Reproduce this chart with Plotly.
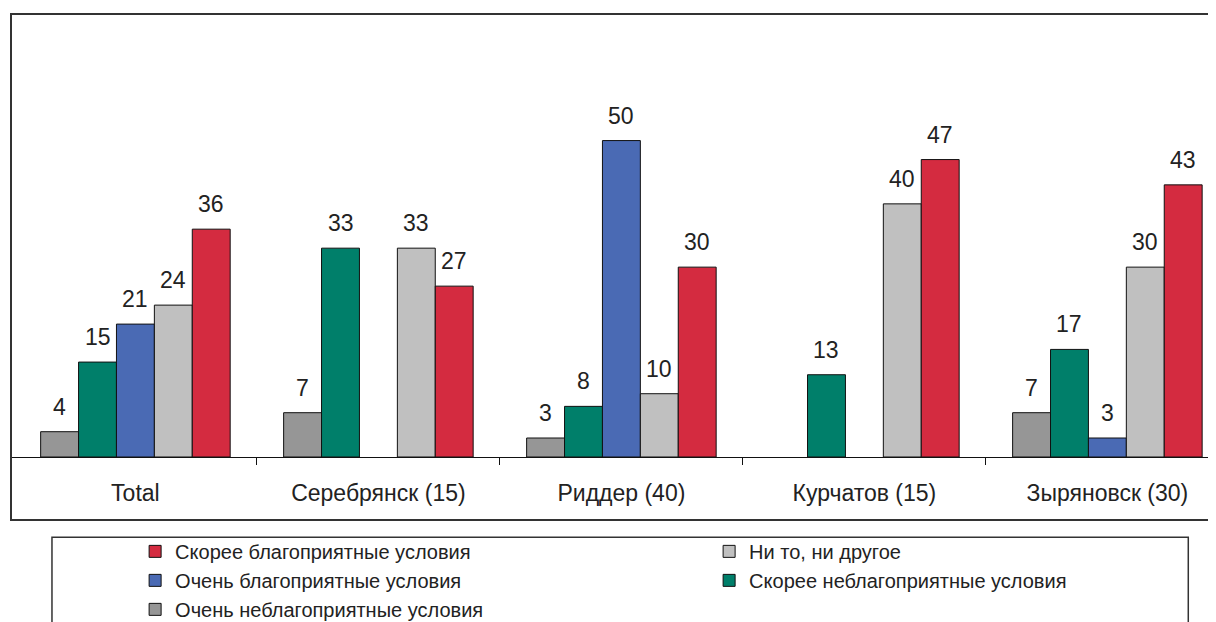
import plotly.graph_objects as go

categories = ["Total", "Серебрянск (15)", "Риддер (40)", "Курчатов (15)", "Зыряновск (30)"]
series_names = [
    "Очень неблагоприятные условия",
    "Скорее неблагоприятные условия",
    "Очень благоприятные условия",
    "Ни то, ни другое",
    "Скорее благоприятные условия",
]
very_unfav = [4, 7, 3, None, 7]
rather_unfav = [15, 33, 8, 13, 17]
very_fav = [21, None, 50, None, 3]
neither = [24, 33, 10, 40, 30]
rather_fav = [36, 27, 30, 47, 43]
series_values = [very_unfav, rather_unfav, very_fav, neither, rather_fav]
colors = ["#969696", "#007F6A", "#4A6AB4", "#C0C0C0", "#D42B40"]

BARGAP = 0.22
n_series = len(series_values)
bw = (1 - BARGAP) / n_series
xs = list(range(len(categories)))
FONT = "Liberation Sans, Arial, sans-serif"

fig = go.Figure()
annotations = []
for j, (name, vals, col) in enumerate(zip(series_names, series_values, colors)):
    fig.add_trace(go.Bar(
        x=xs, y=vals, name=name,
        marker=dict(color=col, line=dict(color="#111111", width=1)),
        hoverinfo="name+y",
    ))
    off = (j - (n_series - 1) / 2) * bw
    for i, v in enumerate(vals):
        if v is None:
            continue
        annotations.append(dict(
            x=i + off, y=v, xref="x", yref="y", text=str(v), showarrow=False,
            yanchor="bottom", yshift=10,
            font=dict(family=FONT, size=23, color="#222222"),
        ))

fig.update_layout(
    width=1208, height=614,
    margin=dict(l=3, r=0, t=6, b=165, autoexpand=False),
    paper_bgcolor="white", plot_bgcolor="white",
    barmode="group", bargap=BARGAP, bargroupgap=0,
    font=dict(family=FONT, size=21, color="#222222"),
    showlegend=True,
    legend=dict(
        orientation="h", traceorder="reversed",
        x=0.103, xanchor="left", y=-0.169, yanchor="top",
        entrywidth=529, entrywidthmode="pixels",
        font=dict(family=FONT, size=20, color="#222222"),
        bgcolor="rgba(0,0,0,0)", borderwidth=0,
    ),
    annotations=annotations,
    shapes=[
        dict(type="rect", xref="paper", yref="paper", x0=0, x1=1.01, y0=-0.142, y1=1,
             line=dict(color="#333333", width=2), fillcolor="rgba(0,0,0,0)", layer="above"),
        dict(type="rect", xref="paper", yref="paper", x0=0.034, x1=0.977, y0=-0.181, y1=-0.45,
             line=dict(color="#333333", width=1.5), fillcolor="rgba(0,0,0,0)", layer="below"),
    ],
)
fig.update_xaxes(
    range=[-0.512, 4.447], tickmode="array", tickvals=xs, ticktext=categories,
    ticks="", showline=True, linecolor="#111111", linewidth=1, showgrid=False,
    zeroline=False, ticklabelstandoff=15,
    tickfont=dict(family=FONT, size=23, color="#222222"),
    minor=dict(tickmode="array", tickvals=[0.5, 1.5, 2.5, 3.5], ticks="outside",
               ticklen=7, tickcolor="#111111", tickwidth=1, showgrid=False),
)
fig.update_yaxes(range=[0, 70], visible=False, showgrid=False, zeroline=False)

fig.write_html("out.html")
